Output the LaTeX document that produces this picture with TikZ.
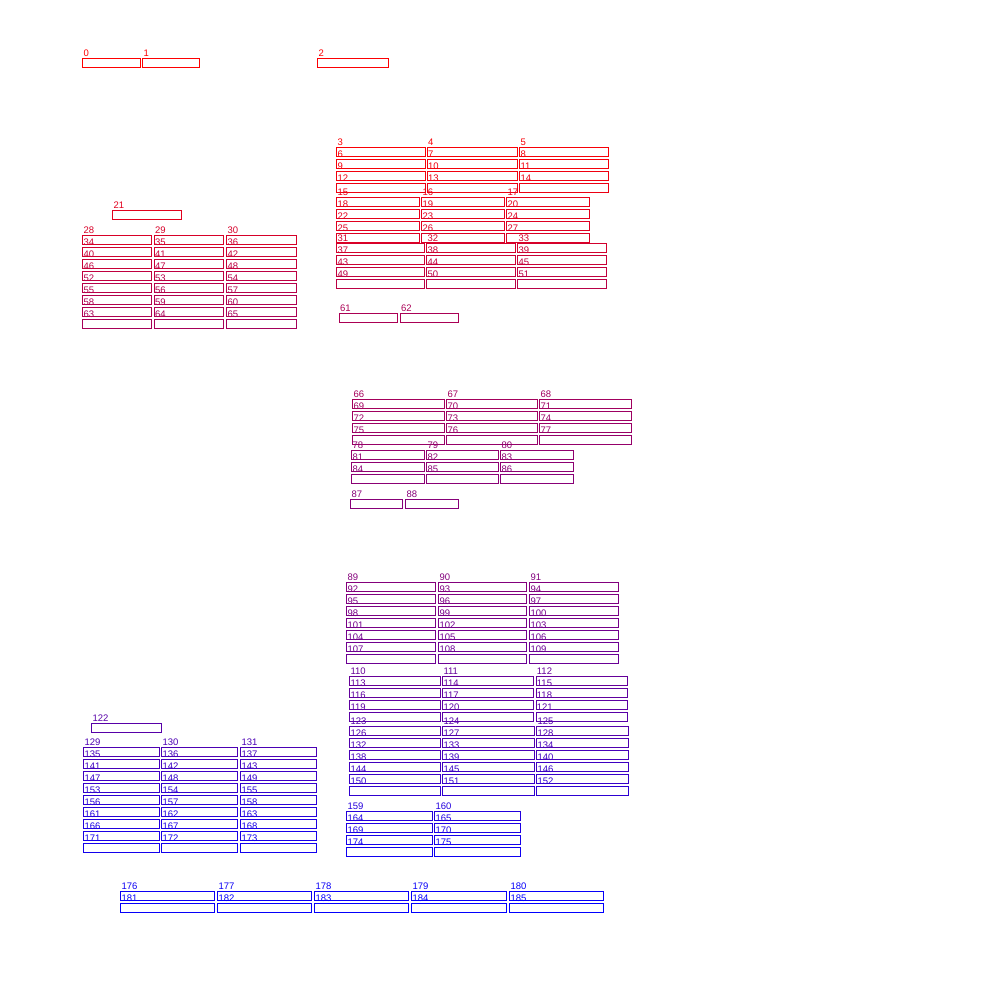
\documentclass[tikz,border=0pt]{standalone}
\usepackage{fontspec}
\setmainfont{Liberation Sans}
\begin{document}
\begin{tikzpicture}[x=1pt,y=-1pt,
  itembox/.style={draw, line width=0.9pt, rectangle, inner sep=0pt, outer sep=0pt, minimum height=9pt, anchor=north west},
  itemlab/.style={inner sep=0pt, anchor=base west, font=\fontsize{9.5}{10}\selectfont}]
\useasboundingbox (0,0) rectangle (1000,1000);
\newcommand{\itm}[4]{%
  \pgfmathsetmacro\rr{1-#1/185}%
  \pgfmathsetmacro\bb{#1/185}%
  \definecolor{ic}{rgb}{\rr,0,\bb}%
  \pgfmathsetmacro\ww{#4-1}%
  \node[itembox, draw=ic, minimum width=\ww pt] (b#1) at (#2+0.5,#3+0.5) {};
  \node[itemlab, text=ic] (t#1) at (#2+1,#3-1.5) {#1};
}
% column: x, top y, width, list
\newcommand{\colm}[4]{%
  \foreach \i [count=\k from 0] in {#4} {%
    \pgfmathsetmacro\yy{#2+12*\k}%
    \itm{\i}{#1}{\yy}{#3}%
  }%
}
% top singles
\itm{0}{82.3}{58.3}{58.4}
\itm{1}{142.3}{58.3}{58}
\itm{2}{317.3}{58.3}{72}
% group 3-5
\colm{336.3}{147.3}{89.4}{3,6,9,12}
\colm{427}{147.3}{90.7}{4,7,10,13}
\colm{519.3}{147.3}{90}{5,8,11,14}
% group 15-17
\colm{336.3}{197.3}{83.4}{15,18,22,25}
\colm{421.3}{197.3}{83.4}{16,19,23,26}
\colm{506.3}{197.3}{83.4}{17,20,24,27}
% group 31-33
\colm{336.3}{243.3}{88.4}{31,37,43,49}
\colm{426.3}{243.3}{89.4}{32,38,44,50}
\colm{517.3}{243.3}{89.4}{33,39,45,51}
% 21
\itm{21}{112.3}{210.3}{70}
% group 28-30
\colm{82.3}{235.3}{70}{28,34,40,46,52,55,58,63}
\colm{154}{235.3}{70.3}{29,35,41,47,53,56,59,64}
\colm{226.3}{235.3}{70.4}{30,36,42,48,54,57,60,65}
% 61 62
\itm{61}{339}{313.3}{59.3}
\itm{62}{400}{313.3}{58.7}
% group 66-68
\colm{352.3}{399.3}{92.4}{66,69,72,75}
\colm{446.3}{399.3}{91.4}{67,70,73,76}
\colm{539.3}{399.3}{92.4}{68,71,74,77}
% group 78-80
\colm{351.3}{450.3}{73.4}{78,81,84}
\colm{426.3}{450.3}{72.4}{79,82,85}
\colm{500.3}{450.3}{73.4}{80,83,86}
% 87 88
\itm{87}{350.3}{499.3}{53}
\itm{88}{405.3}{499.3}{53.4}
% group 89-91
\colm{346.3}{582.3}{90}{89,92,95,98,101,104,107}
\colm{438.3}{582.3}{89}{90,93,96,99,102,105,108}
\colm{529.3}{582.3}{90}{91,94,97,100,103,106,109}
% group 110-112
\colm{349.3}{676.3}{91.4}{110,113,116,119}
\colm{442.3}{676.3}{91.4}{111,114,117,120}
\colm{535.7}{676.3}{92}{112,115,118,121}
% group 123-125
\colm{349.3}{726.3}{91.4}{123,126,132,138,144,150}
\colm{442.3}{726.3}{92.4}{124,127,133,139,145,151}
\colm{536.3}{726.3}{92.4}{125,128,134,140,146,152}
% group 159-160
\colm{346.3}{811.3}{86.4}{159,164,169,174}
\colm{434.3}{811.3}{86.4}{160,165,170,175}
% 122
\itm{122}{91.3}{723.3}{70.4}
% group 129-131
\colm{83.3}{747.3}{76.4}{129,135,141,147,153,156,161,166,171}
\colm{161.3}{747.3}{77}{130,136,142,148,154,157,162,167,172}
\colm{240.3}{747.3}{77}{131,137,143,149,155,158,163,168,173}
% group 176-180
\colm{120.3}{891}{95}{176,181}
\colm{217.3}{891}{95}{177,182}
\colm{314.3}{891}{94.7}{178,183}
\colm{411.3}{891}{96}{179,184}
\colm{509.3}{891}{95}{180,185}
\end{tikzpicture}
\end{document}
